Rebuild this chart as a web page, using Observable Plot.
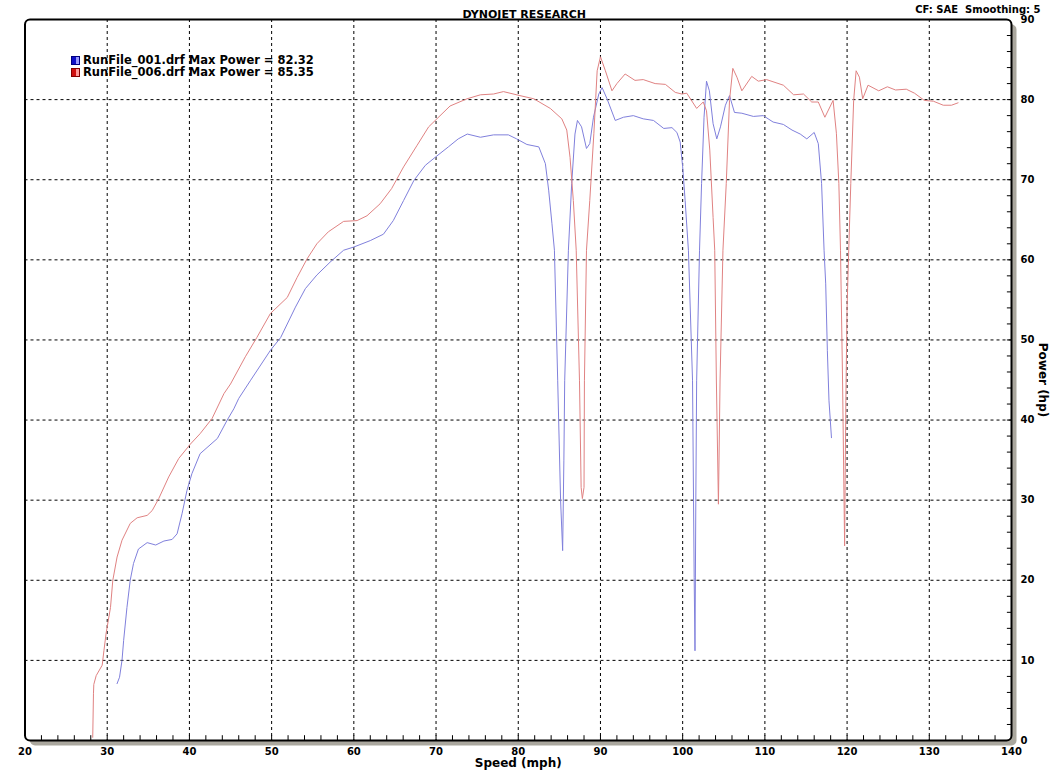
<!DOCTYPE html>
<html>
<head>
<meta charset="utf-8">
<script src="https://cdn.jsdelivr.net/npm/d3@7"></script>
<script src="https://cdn.jsdelivr.net/npm/@observablehq/plot@0.6"></script>
<style>
  body { margin: 0; background: #fff; font-family: "DejaVu Sans", sans-serif; }
  #wrap { position: relative; width: 1051px; height: 773px; }
  #legend { position: absolute; left: 71px; top: 54px; font: bold 11.5px "DejaVu Sans", sans-serif; line-height: 12px; white-space: nowrap; }
  .row { display: flex; align-items: center; height: 12px; }
  .sw { display: inline-block; flex: none; width: 9px; height: 9px; margin-right: 3px; box-sizing: border-box; }
</style>
</head>
<body>
<div id="wrap">
  <div id="chart"></div>
  <div id="legend"></div>
</div>
<script>
// valores: [mph, hp]
const run001 = [
  [31.2, 7.1], [31.5, 7.9], [31.8, 10.0], [32.0, 12.5], [32.4, 16.6], [32.8, 20.0],
  [33.2, 22.1], [33.8, 23.9], [34.86, 24.7], [35.9, 24.4], [36.9, 24.9], [37.9, 25.1],
  [38.5, 25.8], [39.1, 28.3], [39.7, 31.2], [40.3, 33.3], [41.3, 35.8], [43.4, 37.7],
  [44.6, 40.0], [45.4, 41.4], [46.0, 42.7], [47.4, 44.9], [49.85, 48.7], [51.1, 50.3],
  [52.9, 54.1], [54.1, 56.4], [55.5, 58.1], [57.1, 59.7], [58.76, 61.2], [60.0, 61.6],
  [62.0, 62.4], [63.6, 63.2], [64.8, 64.9], [66.05, 67.4], [67.3, 69.9], [68.7, 71.8],
  [69.9, 72.8], [71.5, 74.1], [72.7, 75.1], [73.8, 75.7], [75.4, 75.3], [77.0, 75.6],
  [78.8, 75.6], [79.8, 75.1], [81.05, 74.4], [82.5, 74.1], [83.3, 72.0], [83.7, 68.7],
  [84.1, 64.5], [84.4, 61.2], [84.8, 44.9], [85.15, 30.0], [85.4, 23.7], [85.55, 35.0],
  [85.65, 44.9], [86.1, 61.2], [86.5, 69.5], [86.9, 75.7], [87.2, 77.4], [87.7, 76.6],
  [88.3, 73.9], [88.7, 74.5], [89.15, 77.8], [89.8, 80.7], [90.2, 81.5], [90.8, 80.1],
  [91.8, 77.4], [92.8, 77.8], [94.0, 78.0], [95.2, 77.6], [96.45, 77.4], [97.7, 76.4],
  [98.7, 76.5], [99.3, 75.9], [99.7, 74.7], [100.0, 71.6], [100.3, 67.4], [100.7, 61.2],
  [101.2, 44.9], [101.4, 20.3], [101.5, 11.2], [101.6, 30.0], [101.7, 44.9], [102.05, 61.2],
  [102.3, 69.5], [102.6, 77.8], [102.9, 82.3], [103.25, 81.1], [103.7, 77.0], [104.15, 75.1],
  [104.6, 76.6], [105.2, 79.3], [105.7, 80.5], [106.3, 78.4], [107.2, 78.3], [108.6, 77.9],
  [109.8, 78.0], [111.0, 77.2], [112.25, 76.9], [113.3, 76.2], [114.3, 75.7], [115.1, 75.1],
  [116.0, 75.9], [116.5, 74.5], [116.9, 69.5], [117.2, 61.2], [117.4, 57.0], [117.6, 48.7],
  [117.8, 42.4], [118.1, 37.8]
]

const run006 = [
  [28.24, 0.4], [28.33, 5.9], [28.37, 7.0], [28.66, 8.1], [29.39, 9.4], [29.6, 11.2],
  [29.87, 13.4], [30.4, 16.6], [30.68, 20.0], [31.2, 22.9], [31.8, 25.0], [32.8, 27.1],
  [33.64, 27.8], [34.86, 28.1], [35.47, 28.7], [36.27, 30.2], [37.48, 32.9], [38.7, 35.2],
  [40.12, 37.0], [41.3, 38.3], [42.76, 40.2], [44.2, 43.3], [45.0, 44.5], [46.8, 47.9],
  [48.2, 50.3], [49.85, 53.3], [51.9, 55.3], [53.1, 57.8], [54.3, 60.1], [55.5, 62.0],
  [56.9, 63.5], [58.76, 64.8], [60.4, 64.9], [61.6, 65.5], [63.2, 67.0], [64.6, 68.9],
  [66.05, 71.6], [67.7, 74.3], [69.1, 76.6], [70.1, 77.6], [71.7, 79.2], [73.76, 80.1],
  [75.4, 80.6], [77.0, 80.7], [78.2, 81.0], [80.2, 80.5], [81.9, 80.1], [83.9, 78.9],
  [85.3, 77.6], [85.9, 76.2], [86.3, 72.8], [86.7, 67.4], [87.05, 61.2], [87.45, 44.9],
  [87.65, 31.6], [87.8, 30.2], [88.0, 31.6], [88.05, 44.9], [88.3, 61.2], [88.7, 67.4],
  [89.2, 75.8], [89.6, 83.6], [90.0, 85.35], [90.6, 83.6], [91.4, 81.1], [92.0, 82.0],
  [93.0, 83.2], [94.2, 82.4], [95.2, 82.5], [96.65, 82.0], [97.9, 81.9], [99.1, 80.9],
  [99.9, 80.7], [100.5, 80.8], [101.7, 78.9], [102.5, 79.7], [102.9, 78.6], [103.3, 73.7],
  [103.7, 65.3], [103.9, 61.2], [104.1, 45.0], [104.35, 29.5], [104.55, 45.0], [104.9, 61.2],
  [105.3, 69.5], [105.7, 79.9], [106.1, 83.9], [106.6, 82.8], [107.2, 81.1], [108.4, 82.9],
  [109.2, 82.3], [110.2, 82.5], [112.25, 81.8], [113.5, 80.6], [114.7, 80.7], [115.7, 79.7],
  [116.5, 79.7], [117.3, 77.8], [118.3, 79.9], [118.7, 75.8], [119.0, 69.5], [119.2, 61.2],
  [119.45, 45.0], [119.7, 24.3], [119.85, 42.4], [120.0, 54.1], [120.2, 61.2], [120.45, 69.5],
  [120.8, 79.9], [121.1, 83.6], [121.5, 82.8], [121.9, 80.1], [122.55, 81.8], [123.85, 81.1],
  [124.9, 81.6], [125.9, 81.2], [127.2, 81.3], [128.2, 80.8], [129.4, 79.9], [130.5, 79.8],
  [131.7, 79.3], [132.7, 79.3], [133.5, 79.6]
]

const runNames = ['RunFile_001.drf', 'RunFile_006.drf']
const maxPower = [82.32, 85.35]
const runColors = ['#8080dc', '#e08282']

const xMajor = d3.range(20, 141, 10)
const xMinor = d3.range(22, 140, 2)
const yMajor = d3.range(0, 91, 10)
const yMinor = d3.range(2, 90, 2)

const font = '"DejaVu Sans", sans-serif'

const chart = Plot.plot({
  width: 1051,
  height: 773,
  marginLeft: 24.5,
  marginRight: 40,
  marginTop: 19,
  marginBottom: 33,
  style: { fontFamily: font, fontWeight: 'bold', fontSize: '10px', color: '#000', background: '#fff' },
  x: { domain: [20, 140] },
  y: { domain: [0, 90] },
  marks: [
    // sombra gris y fondo
    Plot.frame({ fill: '#aaa79e', rx: 5, dx: 5, dy: 5 }),
    Plot.frame({ fill: '#fff', rx: 5 }),
    Plot.gridX(xMajor.slice(1, -1), { stroke: '#000', strokeOpacity: 1, strokeDasharray: '3,3' }),
    Plot.gridY(yMajor.slice(1, -1), { stroke: '#000', strokeOpacity: 1, strokeDasharray: '3,3' }),
    Plot.ruleX(xMinor, { y1: 0, y2: 0.6, stroke: '#000' }),
    Plot.ruleY(yMinor, { x1: 139.5, x2: 140, stroke: '#000' }),
    Plot.line(run001, { x: d => d[0], y: d => d[1], stroke: runColors[0], strokeWidth: 1 }),
    Plot.line(run006, { x: d => d[0], y: d => d[1], stroke: runColors[1], strokeWidth: 1 }),
    Plot.frame({ stroke: '#000', strokeWidth: 2, rx: 5 }),
    Plot.axisX(xMajor, { anchor: 'bottom', tickSize: 0, tickPadding: 7, label: null, fontWeight: 'bold' }),
    Plot.axisY(yMajor, { anchor: 'right', tickSize: 0, tickPadding: 9, label: null, fontWeight: 'bold' }),
    Plot.text(['Speed (mph)'], { frameAnchor: 'bottom', dy: 26, fontSize: 12, fontWeight: 'bold', textAnchor: 'middle' }),
    Plot.text(['Power (hp)'], { frameAnchor: 'right', dx: 31, rotate: 90, fontSize: 12, fontWeight: 'bold', textAnchor: 'middle' }),
    Plot.text(['DYNOJET RESEARCH'], { frameAnchor: 'top', dx: 6, dy: -9, fontSize: 11, fontWeight: 'bold', textAnchor: 'middle' }),
    Plot.text(['CF: SAE\u00a0\u00a0Smoothing: 5'], { frameAnchor: 'top-right', dx: 29, dy: -13.5, fontSize: 10, fontWeight: 'bold', textAnchor: 'end' })
  ]
})

d3.select('#chart').append(() => chart)

// leyenda arriba a la izquierda
const swatch = [
  ['#1010c8', '#9a9aff', '#000080'],
  ['#d01010', '#ff9a9a', '#800000']
]
runNames.forEach((name, i) => {
  const row = d3.select('#legend').append('div').attr('class', 'row')
  row.append('span').attr('class', 'sw')
    .style('background', `linear-gradient(to right, ${swatch[i][0]} 50%, ${swatch[i][1]} 50%)`)
    .style('border', `1px solid ${swatch[i][2]}`)
  row.append('span').text(`${name} Max Power = ${maxPower[i].toFixed(2)}`)
})
</script>
</body>
</html>
